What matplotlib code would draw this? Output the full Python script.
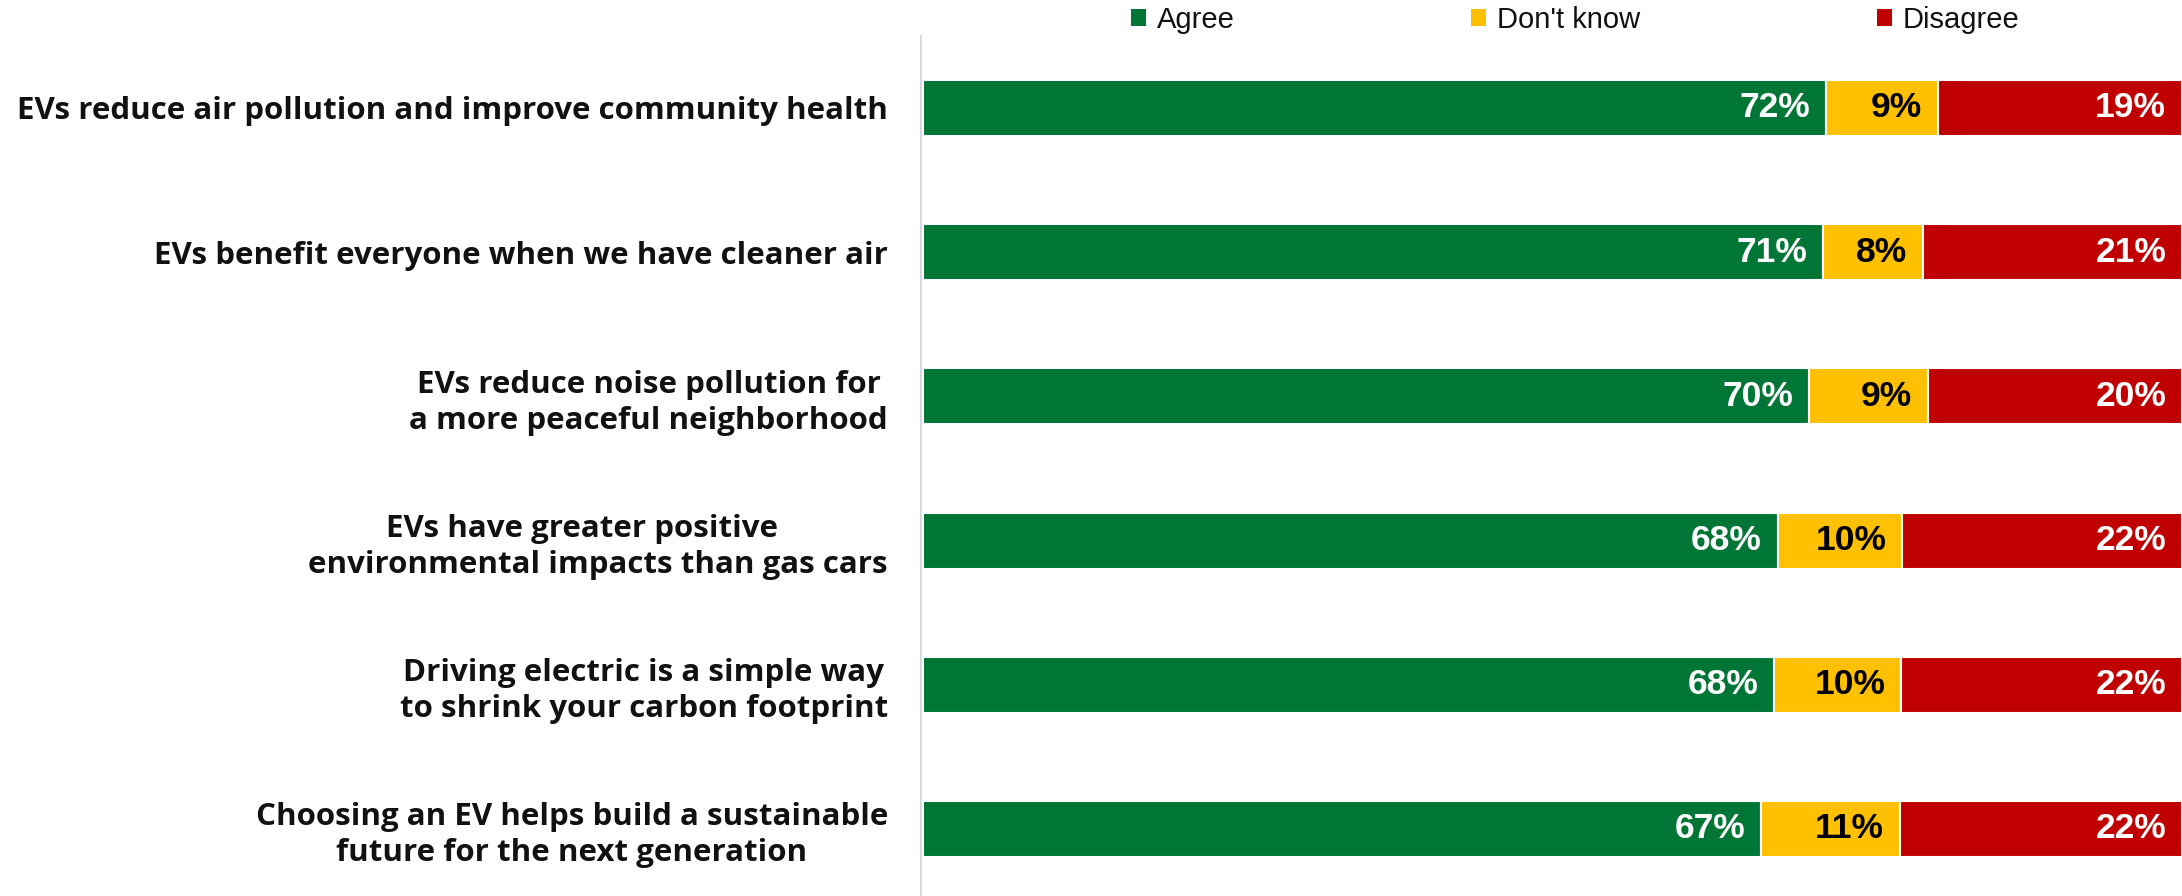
import matplotlib
matplotlib.use("Agg")
import matplotlib.pyplot as plt
from matplotlib.patches import Patch

categories = [
    "EVs reduce air pollution and improve community health",
    "EVs benefit everyone when we have cleaner air",
    "EVs reduce noise pollution for\na more peaceful neighborhood",
    "EVs have greater positive    \nenvironmental impacts than gas cars",
    "Driving electric is a simple way\nto shrink your carbon footprint",
    "Choosing an EV helps build a sustainable\nfuture for the next generation",
]
agree = [71.7, 71.5, 70.4, 67.9, 67.6, 66.6]
dont_know = [8.9, 7.9, 9.4, 9.9, 10.1, 11.0]
disagree = [19.4, 20.6, 20.2, 22.2, 22.3, 22.4]
agree_lbl = ["72%", "71%", "70%", "68%", "68%", "67%"]
dont_know_lbl = ["9%", "8%", "9%", "10%", "10%", "11%"]
disagree_lbl = ["19%", "21%", "20%", "22%", "22%", "22%"]
series_names = ["Agree", "Don't know", "Disagree"]

GREEN = "#007636"
YELLOW = "#FFC000"
RED = "#C00000"

W, H, DPI = 2182, 896, 100
fig = plt.figure(figsize=(W / DPI, H / DPI), dpi=DPI)
ax = fig.add_axes([921 / W, 0.0, 1 - 921 / W, 1 - 36 / H])

y = list(range(len(categories)))
bh = 0.388
lw = 1.5
left2 = [a for a in agree]
left3 = [a + d for a, d in zip(agree, dont_know)]
b1 = ax.barh(y, agree, height=bh, color=GREEN, edgecolor="white", linewidth=lw)
b2 = ax.barh(y, dont_know, left=left2, height=bh, color=YELLOW, edgecolor="white", linewidth=lw)
b3 = ax.barh(y, disagree, left=left3, height=bh, color=RED, edgecolor="white", linewidth=lw)

num_font = dict(family="Liberation Sans", fontweight="bold", fontsize=25.5)
for bars, labels, col in [(b1, agree_lbl, "white"), (b2, dont_know_lbl, "black"), (b3, disagree_lbl, "white")]:
    for rect, lab in zip(bars, labels):
        xe = rect.get_x() + rect.get_width()
        yc = rect.get_y() + rect.get_height() / 2
        ax.annotate(lab, xy=(xe, yc), xytext=(-11.5, 0), textcoords="offset points",
                    ha="right", va="center", color=col, **num_font)

ax.set_xlim(-0.15, 100)
ax.set_ylim(5.465, -0.499)
ax.set_xticks([])
ax.set_yticks(y)
ax.set_yticklabels(categories, fontfamily="Open Sans", fontweight="bold", fontsize=22.5,
                   color="#111111", linespacing=1.26)
for t in ax.get_yticklabels():
    t.set_multialignment("center")
ax.tick_params(axis="y", length=0, pad=23.8)
for s in ["top", "right", "bottom"]:
    ax.spines[s].set_visible(False)
ax.spines["left"].set_color("#d9d9d9")
ax.spines["left"].set_linewidth(1.5)

handles = [Patch(facecolor=c, edgecolor="none") for c in (GREEN, YELLOW, RED)]
fig.legend(handles, series_names, loc="center", bbox_to_anchor=(1575 / W, 1 - 20 / H),
           ncol=3, frameon=False, handlelength=0.52, handleheight=0.52, handletextpad=0.38,
           columnspacing=8.1, prop=dict(family="Liberation Sans", size=21), labelcolor="#111111")

fig.savefig("out.png", dpi=DPI, facecolor="white")
